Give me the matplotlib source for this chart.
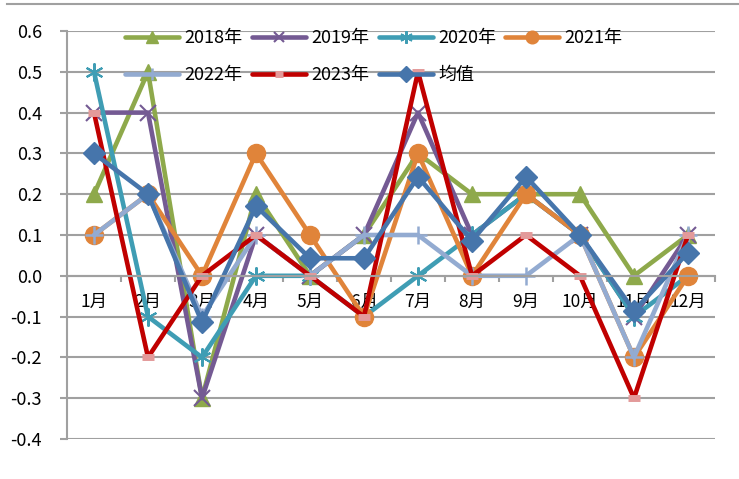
import matplotlib
matplotlib.use("Agg")
import matplotlib.pyplot as plt
from matplotlib.lines import Line2D
import numpy as np

plt.rcParams['font.family'] = ['Noto Sans CJK SC', 'DejaVu Sans']

months = ["1月", "2月", "3月", "4月", "5月", "6月", "7月", "8月", "9月", "10月", "11月", "12月"]
series_names = ["2018年", "2019年", "2020年", "2021年", "2022年", "2023年", "均值"]

v2018 = [0.2, 0.5, -0.3, 0.2, 0.0, 0.1, 0.3, 0.2, 0.2, 0.2, 0.0, 0.1]
v2019 = [0.4, 0.4, -0.3, 0.1, 0.0, 0.1, 0.4, 0.1, 0.2, 0.1, -0.1, 0.1]
v2020 = [0.5, -0.1, -0.2, 0.0, 0.0, -0.1, 0.0, 0.1, 0.2, 0.1, -0.1, 0.0]
v2021 = [0.1, 0.2, 0.0, 0.3, 0.1, -0.1, 0.3, 0.0, 0.2, 0.1, -0.2, 0.0]
v2022 = [0.1, 0.2, -0.1, 0.1, 0.0, 0.1, 0.1, 0.0, 0.0, 0.1, -0.2, 0.1]
v2023 = [0.4, -0.2, 0.0, 0.1, 0.0, -0.1, 0.5, 0.0, 0.1, 0.0, -0.3, 0.1]
vmean = [0.3, 0.2, -0.114, 0.171, 0.043, 0.043, 0.243, 0.086, 0.243, 0.1, -0.086, 0.057]

yticks = [-0.4, -0.3, -0.2, -0.1, 0.0, 0.1, 0.2, 0.3, 0.4, 0.5, 0.6]

colors = ['#8EA94B', '#745A93', '#3F9DB4', '#E0843A', '#93ABD1', '#C00000', '#4675AB']
markers = ['^', 'x', (6, 2, 0), 'o', '+', '_', 'D']
msizes = [12, 11, 13, 13, 13, 9, 11]
mews = [1, 1.5, 1.5, 1, 1.8, 5, 1]
mfc = [None, None, None, None, None, '#E39A9A', None]
mec = [None, None, None, None, None, '#E39A9A', None]

fig = plt.figure(figsize=(7.39, 4.79), dpi=100)
ax = fig.add_axes([67/739, 40/479, (715-67)/739, (439-31)/479])

x = np.arange(1, 13)
data = [v2018, v2019, v2020, v2021, v2022, v2023, vmean]
handles = []
for i, (name, vals) in enumerate(zip(series_names, data)):
    kw = dict(color=colors[i], lw=3.3, marker=markers[i], ms=msizes[i], mew=mews[i],
              solid_joinstyle='round', solid_capstyle='round', label=name)
    if mfc[i]:
        kw['markerfacecolor'] = mfc[i]
        kw['markeredgecolor'] = mec[i]
    h, = ax.plot(x, vals, **kw)
    handles.append(h)

ax.set_xlim(0.5, 12.5)
ax.set_ylim(-0.4, 0.6)
ax.set_yticks(yticks)
ax.set_yticklabels([f"{t:.1f}" for t in yticks])
ax.yaxis.grid(True, color='#A0A0A0', lw=1.5)
ax.set_axisbelow(True)

for s in ['top', 'right']:
    ax.spines[s].set_visible(False)
ax.spines['left'].set_color('#A0A0A0')
ax.spines['left'].set_linewidth(1.5)
ax.spines['bottom'].set_position(('data', 0))
ax.spines['bottom'].set_color('#A0A0A0')
ax.spines['bottom'].set_linewidth(1.5)

ax.tick_params(axis='y', length=5, width=1.5, color='#A0A0A0', pad=13, labelsize=13, labelcolor='#000000')
ax.set_xticks(x)
ax.set_xticklabels(months)
ax.set_xticks(np.arange(0.5, 13, 1), minor=True)
ax.tick_params(axis='x', which='major', length=0, pad=12, labelsize=12.5)
ax.tick_params(axis='x', which='minor', length=4, width=1.5, color='#A0A0A0', direction='out')

# legend filled row-wise (matplotlib fills column-wise)
order = [0, 4, 1, 5, 2, 6, 3]
leg = fig.legend(handles=[handles[k] for k in order], loc='upper left',
                 bbox_to_anchor=(118/739, 1 - 22/479),
                 ncol=4, frameon=False, fontsize=13, handlelength=3.0, handletextpad=0.3,
                 columnspacing=0.5, labelspacing=1.05, borderaxespad=0, markerscale=0.7)

fig.add_artist(Line2D([7/739, 1.0], [1 - 4/479, 1 - 4/479], transform=fig.transFigure,
                      color='#A0A0A0', lw=1.5))

fig.savefig('out.png', dpi=100)
